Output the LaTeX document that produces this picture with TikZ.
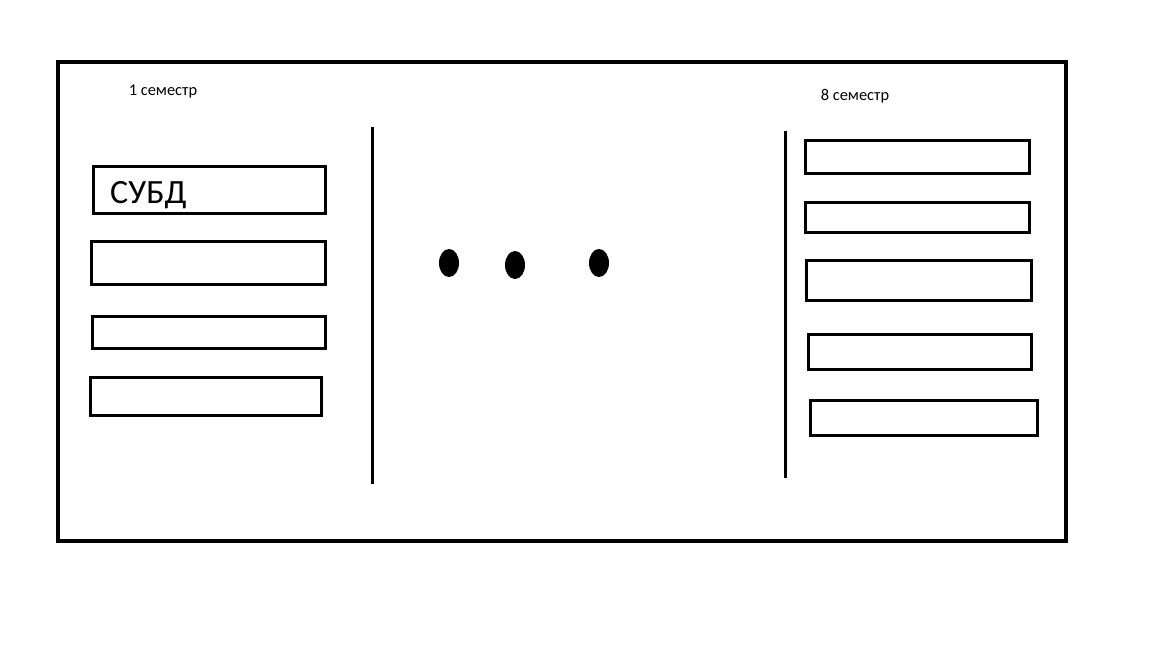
\documentclass[tikz,border=0pt]{standalone}
\usepackage{fontspec}
\setmainfont{Carlito}
\usetikzlibrary{shapes,positioning}

\newcommand{\pxu}{0.03cm}

\begin{document}
\begin{tikzpicture}[
    x=0.03cm, y=-0.03cm,
    box/.style={draw, rectangle, line width=3*\pxu, inner sep=0pt, outer sep=0pt},
    frame/.style={draw, line width=4*\pxu},
    sep/.style={line width=3*\pxu},
    dot/.style={fill=black, ellipse, minimum width=20*\pxu, minimum height=28*\pxu, inner sep=0pt},
    term/.style={font=\fontsize{14}{16}\selectfont, inner sep=0pt}
]
\useasboundingbox (0,0) rectangle (1152,648);

% Outer frame
\draw[frame] (58,62) rectangle (1066,541);

% Semester captions
\node[term] (first) at (163,92) {1 семестр};
\node[term] (last) at (855,96) {8 семестр};

% Left column (1 semester)
\node[box, minimum width=232*\pxu, minimum height=47*\pxu] (l1) at (209.5,190) {};
\node[box, minimum width=234*\pxu, minimum height=43*\pxu] (l2) at (208.5,263) {};
\node[box, minimum width=233*\pxu, minimum height=32*\pxu] (l3) at (209,332.5) {};
\node[box, minimum width=231*\pxu, minimum height=38*\pxu] (l4) at (206,396.5) {};
\node[anchor=west, inner sep=0pt, font=\fontsize{29}{32}\selectfont] (subd) at (110,195) {СУБД};

% Separators
\coordinate (s1top) at (372,127);
\coordinate (s1bot) at (372,484);
\coordinate (s2top) at (785,131);
\coordinate (s2bot) at (785,478);
\draw[sep] (s1top) -- (s1bot);
\draw[sep] (s2top) -- (s2bot);

% Dots in between
\node[dot] (d1) at (449,263) {};
\node[dot] (d2) at (515,265) {};
\node[dot] (d3) at (599,263) {};

% Right column (8 semester)
\node[box, minimum width=224*\pxu, minimum height=33*\pxu] (r1) at (917.5,157) {};
\node[box, minimum width=224*\pxu, minimum height=30*\pxu] (r2) at (917.5,217.5) {};
\node[box, minimum width=225*\pxu, minimum height=40*\pxu] (r3) at (919,280.5) {};
\node[box, minimum width=223*\pxu, minimum height=35*\pxu] (r4) at (920,352) {};
\node[box, minimum width=227*\pxu, minimum height=35*\pxu] (r5) at (924,418) {};

\end{tikzpicture}
\end{document}
